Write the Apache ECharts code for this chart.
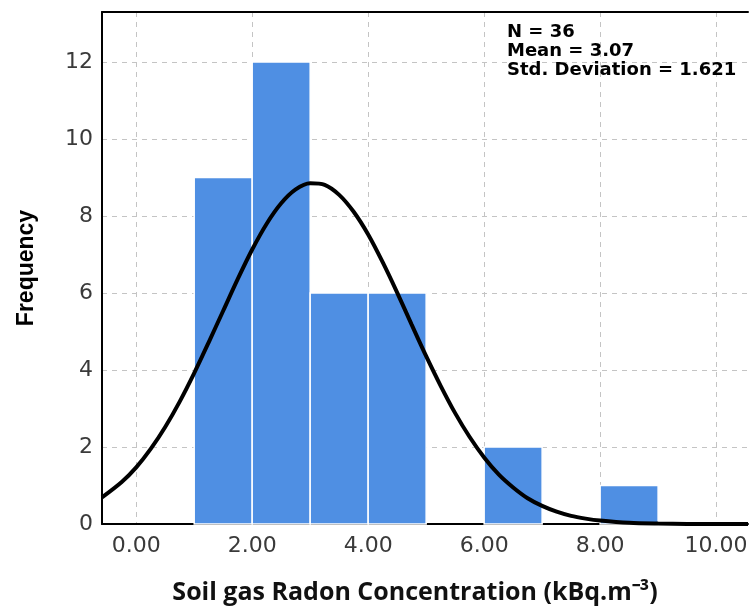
<!DOCTYPE html>
<html>
<head>
<meta charset="utf-8">
<script src="https://cdn.jsdelivr.net/npm/echarts@6/dist/echarts.min.js"></script>
<style>
  html, body { margin: 0; padding: 0; background: #fff; }
  #chart { width: 752px; height: 610px; }
</style>
</head>
<body>
<div id="chart"></div>
<script>
// histogram bins (kBq.m-3) and counts
const binStart = [1, 2, 3, 4, 6, 8]
const binEnd = [2, 3, 4, 5, 7, 9]
const binCount = [9, 12, 6, 6, 2, 1]

// fitted normal curve
const curveX = [-0.59, -0.25, 0, 0.25, 0.5, 0.75, 1, 1.25, 1.5, 1.75, 2, 2.25, 2.5, 2.75, 3, 3.25, 3.5, 3.75, 4, 4.25, 4.5, 4.75, 5,
  5.25, 5.5, 5.75, 6, 6.25, 6.5, 6.75, 7, 7.25, 7.5, 7.75, 8, 8.5, 9, 9.5, 10, 10.55]
const curveY = [0.69, 1.09, 1.47, 1.95, 2.52, 3.18, 3.92, 4.72, 5.54, 6.36, 7.13, 7.8, 8.33, 8.69, 8.85, 8.81, 8.55, 8.11, 7.52, 6.8, 6.01, 5.18, 4.36,
  3.59, 2.88, 2.26, 1.73, 1.29, 0.95, 0.67, 0.47, 0.32, 0.21, 0.14, 0.09, 0.03, 0.01, 0.003, 0.001, 0]

const xTicks = [0, 2, 4, 6, 8, 10]
const statsLines = ['N = 36', 'Mean = 3.07', 'Std. Deviation = 1.621']

const chart = echarts.init(document.getElementById('chart'))

const histData = binStart.map((s, i) => [s, binEnd[i], binCount[i]])
const lineData = curveX.map((x, i) => [x, curveY[i]])

const gridLine = { show: true, lineStyle: { color: '#c4c4c4', type: [5, 5], width: 1 } }

chart.setOption({
  animation: false,
  backgroundColor: '#fff',
  grid: { left: 102, right: 4, top: 12, bottom: 83 },
  xAxis: [
    {
      type: 'value',
      min: -0.59,
      max: 10.55,
      axisLine: { show: true, onZero: false, lineStyle: { color: '#000', width: 2 } },
      axisTick: { show: false, customValues: xTicks },
      axisLabel: {
        customValues: xTicks,
        formatter: v => v.toFixed(2),
        fontFamily: 'DejaVu Sans',
        fontSize: 22,
        color: '#3a3a3a',
        margin: 11,
      },
      splitLine: gridLine,
      name: 'Soil gas Radon Concentration (kBq.m⁻³)',
      nameLocation: 'middle',
      nameGap: 56,
      nameTextStyle: {
        fontFamily: 'Open Sans',
        fontWeight: 'bold',
        fontSize: 25,
        color: '#111',
        padding: [0, 20, 0, 0],
      },
    },
    {
      // top frame line
      type: 'value',
      position: 'top',
      min: -0.59,
      max: 10.55,
      axisLine: { show: true, onZero: false, lineStyle: { color: '#000', width: 2 } },
      axisTick: { show: false },
      axisLabel: { show: false },
      splitLine: { show: false },
    },
  ],
  yAxis: {
    type: 'value',
    min: 0,
    max: 13.3,
    interval: 2,
    axisLine: { show: true, onZero: false, lineStyle: { color: '#000', width: 2 } },
    axisTick: { show: false },
    axisLabel: {
      fontFamily: 'DejaVu Sans',
      fontSize: 22,
      color: '#3a3a3a',
      margin: 9,
      showMaxLabel: false,
    },
    splitLine: gridLine,
    name: 'Frequency',
    nameLocation: 'middle',
    nameGap: 64,
    nameTextStyle: {
      fontFamily: 'Liberation Sans',
      fontWeight: 'bold',
      fontSize: 23,
      color: '#000',
    },
  },
  series: [
    {
      type: 'custom',
      data: histData,
      renderItem: (params, api) => {
        const p0 = api.coord([api.value(0), api.value(2)])
        const p1 = api.coord([api.value(1), 0])
        return {
          type: 'rect',
          shape: { x: p0[0], y: p0[1], width: p1[0] - p0[0], height: p1[1] - p0[1] },
          style: { fill: '#4f8fe3', stroke: '#fff', lineWidth: 1.5 },
        }
      },
      z: 2,
    },
    {
      type: 'line',
      data: lineData,
      smooth: 0.3,
      showSymbol: false,
      lineStyle: { color: '#000', width: 4 },
      z: 3,
    },
  ],
  graphic: [
    {
      type: 'text',
      left: 507,
      top: 23,
      style: {
        text: statsLines.join('\n'),
        fontFamily: 'DejaVu Sans',
        fontWeight: 'bold',
        fontSize: 18,
        lineHeight: 19,
        fill: '#000',
      },
      z: 10,
    },
  ],
})
</script>
</body>
</html>
